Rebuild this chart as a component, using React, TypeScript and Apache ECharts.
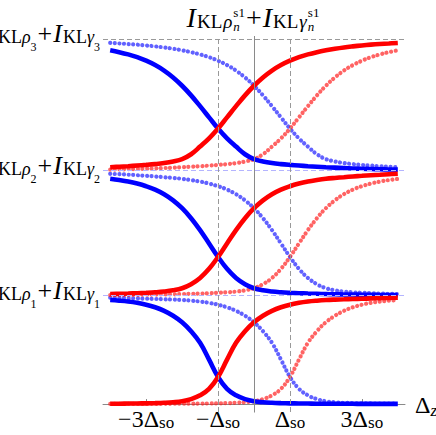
import React, { useEffect, useRef } from "react";
import * as echarts from "echarts";

// ---- data ----
// Relative height (0..1 within a band) of the falling curve as a function of t = x + 1,
// sampled from t = -5 to t = 5 every 0.25.
const profileStart = -5;
const profileStep = 0.25;
const band1Profile = [
  0.982, 0.98, 0.978, 0.975, 0.972, 0.97, 0.967, 0.964, 0.96, 0.954, 0.946, 0.934,
  0.917, 0.893, 0.86, 0.815, 0.755, 0.672, 0.565, 0.41, 0.25, 0.14, 0.08, 0.045, 0.025,
  0.016, 0.011, 0.008, 0.006, 0.005, 0.004, 0.003, 0.003, 0.002, 0.002, 0.002, 0.001,
  0.001, 0.001, 0.001, 0.001,
];
const band2Profile = [
  0.975, 0.972, 0.968, 0.964, 0.959, 0.954, 0.948, 0.942, 0.935, 0.925, 0.913, 0.897,
  0.876, 0.849, 0.812, 0.763, 0.7, 0.62, 0.525, 0.418, 0.31, 0.215, 0.142, 0.092, 0.06,
  0.043, 0.033, 0.027, 0.023, 0.02, 0.017, 0.015, 0.013, 0.011, 0.01, 0.009, 0.008,
  0.007, 0.006, 0.005, 0.005,
];
const band3Profile = [
  0.97, 0.966, 0.962, 0.957, 0.951, 0.944, 0.936, 0.926, 0.914, 0.9, 0.883, 0.862,
  0.835, 0.802, 0.76, 0.708, 0.645, 0.572, 0.49, 0.405, 0.32, 0.245, 0.183, 0.125, 0.088,
  0.07, 0.058, 0.05, 0.044, 0.039, 0.034, 0.03, 0.026, 0.023, 0.02, 0.017, 0.015,
  0.013, 0.011, 0.009, 0.008,
];
const bandProfiles = [band1Profile, band2Profile, band3Profile];
const levels = [0, 1.083, 2.333, 3.65];
const levelIndices = ["1", "2", "3"];
const sampleStart = -4;
const sampleCount = 33;
const sampleStep = 0.25;
const tickValues = [-3, -1, 1, 3];
const tickMain = ["\u22123\u0394", "\u2212\u0394", "\u0394", "3\u0394"];
const tickSub = "so";
const guideXs = [-1, 1];

const xMin = -4.2;
const xMax = 4.2;
const yMin = -0.085;
const yMax = 3.68;

const FONT = '"Liberation Serif", "Times New Roman", serif';
const BLUE = "#0000ff";
const RED = "#ff0000";
const BLUE_DOT = "rgba(30,30,255,0.7)";
const RED_DOT = "rgba(255,25,25,0.68)";
const GRAY = "#999999";
const LIGHT_BLUE = "#b4b4ff";

function prof(p: number[], t: number) {
  const i = Math.round((t - profileStart) / profileStep);
  return p[Math.max(0, Math.min(p.length - 1, i))];
}

type Tok = { t: string; size: number; italic?: boolean; dy?: number; stack?: boolean; pre?: number };

function buildMath(tokens: Tok[], anchorX: number, baseline: number, align: "left" | "right" | "center") {
  const ctx = document.createElement("canvas").getContext("2d")!;
  let x = 0;
  let prevX = 0;
  let prevW = 0;
  const placed: { tok: Tok; font: string; x: number }[] = [];
  for (const tok of tokens) {
    const font = `${tok.italic ? "italic " : ""}${tok.size}px ${FONT}`;
    ctx.font = font;
    const w = ctx.measureText(tok.t).width;
    if (tok.stack) {
      placed.push({ tok, font, x: prevX });
      const adv = Math.max(prevW, w);
      x = prevX + adv;
      prevW = adv;
    } else {
      const sx = x + (tok.pre ?? 0);
      placed.push({ tok, font, x: sx });
      prevX = sx;
      prevW = w;
      x = sx + w;
    }
  }
  const total = x;
  const shift = align === "left" ? anchorX : align === "right" ? anchorX - total : anchorX - total / 2;
  return placed.map((p) => ({
    type: "text",
    x: p.x + shift,
    y: baseline + (p.tok.dy ?? 0) - 0.3375 * p.tok.size,
    silent: true,
    z: 100,
    style: { text: p.tok.t, font: p.font, fill: "#000", align: "left", verticalAlign: "middle" },
  }));
}

function buildSeries() {
  const xs: number[] = [];
  for (let i = 0; i < sampleCount; i++) xs.push(sampleStart + i * sampleStep);
  const dotted: any[] = [];
  const solid: any[] = [];
  bandProfiles.forEach((p, b) => {
    const base = levels[b];
    const h = levels[b + 1] - levels[b];
    const mk = (f: (x: number) => number) => xs.map((x) => [x, base + h * prof(p, f(x))]);
    const common = { type: "line", showSymbol: false, symbol: "none", smooth: 0.4, silent: true };
    dotted.push({
      ...common,
      data: mk((x) => x - 1),
      z: 2,
      lineStyle: { color: BLUE_DOT, width: 4.2, type: [0.01, 4.6], cap: "round" },
    });
    dotted.push({
      ...common,
      data: mk((x) => 1 - x),
      z: 2,
      lineStyle: { color: RED_DOT, width: 4.2, type: [0.01, 4.6], cap: "round" },
    });
    solid.push({ ...common, data: mk((x) => x + 1), z: 3, lineStyle: { color: BLUE, width: 4.6 } });
    solid.push({ ...common, data: mk((x) => -1 - x), z: 4, lineStyle: { color: RED, width: 4.6 } });
  });
  return [...dotted, ...solid];
}

function buildOption(): any {
  const dash = [5, 3];
  const guides: any[] = [
    [{ coord: [xMin, levels[1]], lineStyle: { color: LIGHT_BLUE, type: dash, width: 1 } }, { coord: [xMax, levels[1]] }],
    [{ coord: [xMin, levels[2]], lineStyle: { color: LIGHT_BLUE, type: dash, width: 1 } }, { coord: [xMax, levels[2]] }],
    [{ coord: [xMin, levels[3]], lineStyle: { color: GRAY, type: dash, width: 1 } }, { coord: [xMax, levels[3]] }],
    ...guideXs.map((gx) => [
      { coord: [gx, levels[3]], lineStyle: { color: GRAY, type: dash, width: 1 } },
      { coord: [gx, yMin] },
    ]),
    [{ coord: [0, yMax], lineStyle: { color: "#8a8a8a", type: "solid", width: 1 } }, { coord: [0, yMin] }],
  ];
  return {
    animation: false,
    grid: { left: 103, top: 36, width: 302, height: 376.5 },
    xAxis: {
      type: "value",
      min: xMin,
      max: xMax,
      axisLine: { show: true, onZero: true, lineStyle: { color: "#8a8a8a", width: 1 } },
      axisTick: { show: true, inside: true, length: 5, customValues: tickValues, lineStyle: { color: "#8a8a8a" } },
      axisLabel: { show: false },
      splitLine: { show: false },
    },
    yAxis: {
      type: "value",
      min: yMin,
      max: yMax,
      axisLine: { show: false },
      axisTick: { show: false },
      axisLabel: { show: false },
      splitLine: { show: false },
    },
    series: [
      {
        type: "line",
        data: [],
        silent: true,
        z: 1,
        markLine: { symbol: ["none", "none"], silent: true, label: { show: false }, data: guides },
      },
      ...buildSeries(),
    ],
  };
}

export default function App() {
  const ref = useRef<HTMLDivElement>(null);
  useEffect(() => {
    document.body.style.margin = "0";
    const chart = echarts.init(ref.current!, null, { renderer: "svg" });
    chart.setOption(buildOption());
    const px = (v: number) => chart.convertToPixel({ xAxisIndex: 0 }, v) as number;
    const py = (v: number) => chart.convertToPixel({ yAxisIndex: 0 }, v) as number;
    const g: any[] = [];
    // title
    g.push(
      ...buildMath(
        [
          { t: "I", size: 28, italic: true },
          { t: "KL", size: 19, dy: 1, pre: 1 },
          { t: "\u03c1", size: 19, italic: true, dy: 1, pre: 1 },
          { t: "n", size: 13, italic: true, dy: 3.5, pre: 1 },
          { t: "s1", size: 13, dy: -10.5, stack: true },
          { t: "+", size: 28, pre: 1 },
          { t: "I", size: 28, italic: true, pre: 1 },
          { t: "KL", size: 19, dy: 1, pre: 1 },
          { t: "\u03b3", size: 19, italic: true, dy: 1, pre: 1 },
          { t: "n", size: 13, italic: true, dy: 3.5, pre: 1 },
          { t: "s1", size: 13, dy: -10.5, stack: true },
        ],
        253,
        27,
        "center"
      )
    );
    // y labels
    levelIndices.forEach((k, i) => {
      const yb = py(levels[i + 1]) + 3.5;
      g.push(
        ...buildMath(
          [
            { t: "I", size: 26, italic: true },
            { t: "KL", size: 18, dy: 1, pre: 1 },
            { t: "\u03c1", size: 18, italic: true, dy: 1 },
            { t: k, size: 12, dy: 9 },
            { t: "+", size: 26, pre: 1 },
            { t: "I", size: 26, italic: true, pre: 1 },
            { t: "KL", size: 18, dy: 1, pre: 1 },
            { t: "\u03b3", size: 18, italic: true, dy: 1 },
            { t: k, size: 12, dy: 9 },
          ],
          100,
          yb,
          "right"
        )
      );
    });
    // x tick labels
    tickValues.forEach((v, i) => {
      g.push(
        ...buildMath(
          [
            { t: tickMain[i], size: 24 },
            { t: tickSub, size: 17, dy: 1.5 },
          ],
          px(v),
          py(0) + 23,
          "center"
        )
      );
    });
    // axis name
    g.push(
      ...buildMath(
        [
          { t: "\u0394", size: 24 },
          { t: "z", size: 17, italic: true, dy: 3 },
        ],
        px(xMax) + 10,
        py(0) + 9,
        "left"
      )
    );
    chart.setOption({ graphic: g });
    return () => chart.dispose();
  }, []);
  return <div ref={ref} style={{ width: 436, height: 435, overflow: "hidden" }} />;
}
